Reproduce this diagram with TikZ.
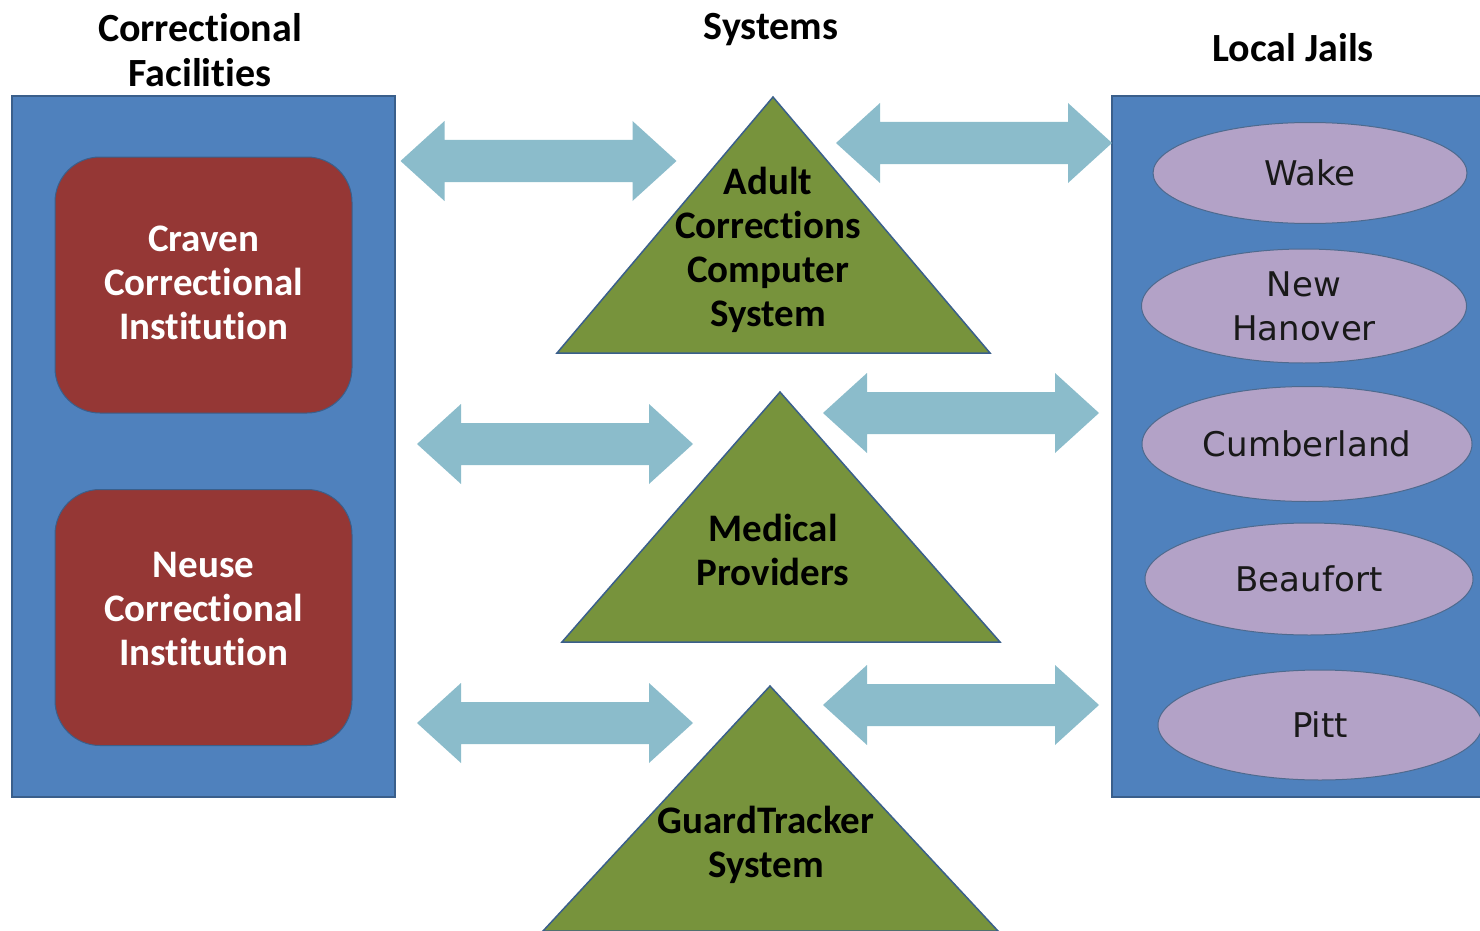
\documentclass[tikz,border=0pt]{standalone}
\usepackage{fontspec}
\setmainfont[RawFeature={-liga;-calt;-dlig;-clig}]{Carlito}
\newfontfamily\ellfont{DejaVu Sans}
\usetikzlibrary{shapes.geometric}
\definecolor{panelblue}{HTML}{4F81BD}
\definecolor{panelline}{HTML}{3A5F8B}
\definecolor{facred}{HTML}{953735}
\definecolor{sysgreen}{HTML}{77933C}
\definecolor{arrowaqua}{HTML}{8BBCCB}
\definecolor{jailpurple}{HTML}{B3A2C7}
\definecolor{jailline}{HTML}{4E6A8E}
\tikzset{
  panel/.style={draw=panelline, line width=1.5pt, fill=panelblue, inner sep=0pt},
  facility/.style={draw=panelline, line width=1pt, fill=facred, rounded corners=45pt,
    minimum width=297pt, minimum height=256pt},
  factext/.style={text=white, align=center, font=\bfseries\fontsize{39}{44}\selectfont},
  systri/.style={draw=panelline, line width=1.5pt, fill=sysgreen},
  systext/.style={align=center, text=black, font=\bfseries\fontsize{39}{44}\selectfont},
  jail/.style={ellipse, draw=jailline, line width=1pt, fill=jailpurple, inner sep=0pt,
    align=center, text=black!90, font=\ellfont\fontsize{34}{44}\selectfont},
  heading/.style={align=center, text=black, font=\bfseries\fontsize{40}{45}\selectfont},
  dblarrow/.pic={
    \fill[arrowaqua] (-138,0) -- (-94,-40) -- (-94,-21) -- (94,-21) -- (94,-40)
      -- (138,0) -- (94,40) -- (94,21) -- (-94,21) -- (-94,40) -- cycle;
  }
}
\begin{document}
\begin{tikzpicture}[x=1pt,y=-1pt]
\useasboundingbox (0,0) rectangle (1480,931);
\clip (0,0) rectangle (1480,931);

% headings
\node[heading] (hcf) at (200,50) {Correctional\\Facilities};
\node[heading] (hsys) at (771,30) {Systems};
\node[heading] (hlj) at (1293,48) {Local Jails};

% panels
\node[panel, minimum width=383pt, minimum height=701pt] (cf) at (203.5,446.5) {};
\node[panel, minimum width=400pt, minimum height=701pt] (lj) at (1312,446.5) {};

% facilities
\node[facility] (craven) at (203.5,285) {};
\node[factext] (cravent) at (203.5,283) {Craven\\Correctional\\Institution};
\node[facility] (neuse) at (203.5,617.5) {};
\node[factext] (neuset) at (203.5,609) {Neuse\\Correctional\\Institution};

% systems triangles
\draw[systri] (773,97) -- (990,353) -- (557,353) -- cycle;
\node[systext] (accs) at (768,250) {Adult\\Corrections\\Computer\\System};
\draw[systri] (780,392) -- (1000,642) -- (562,642) -- cycle;
\node[systext] (med) at (773,550) {Medical\\Providers};
\draw[systri] (770,686) -- (998,931) -- (543,931) -- cycle;
\node[systext] (gts) at (766,845) {GuardTracker\\System};

% jails
\node[jail, minimum width=314pt, minimum height=101pt] (wake) at (1310,173) {Wake};
\node[jail, minimum width=325pt, minimum height=114pt] (nh) at (1304,306) {New\\Hanover};
\node[jail, minimum width=330pt, minimum height=115pt] (cumb) at (1307,444) {Cumberland};
\node[jail, minimum width=328pt, minimum height=112pt] (beau) at (1309,579) {Beaufort};
\node[jail, minimum width=324pt, minimum height=110pt] (pitt) at (1320,725) {Pitt};

% arrows
\pic at (538.5,161) {dblarrow};
\pic at (974,143) {dblarrow};
\pic at (555,444) {dblarrow};
\pic at (961,413) {dblarrow};
\pic at (555,723) {dblarrow};
\pic at (961,705) {dblarrow};
\end{tikzpicture}
\end{document}
